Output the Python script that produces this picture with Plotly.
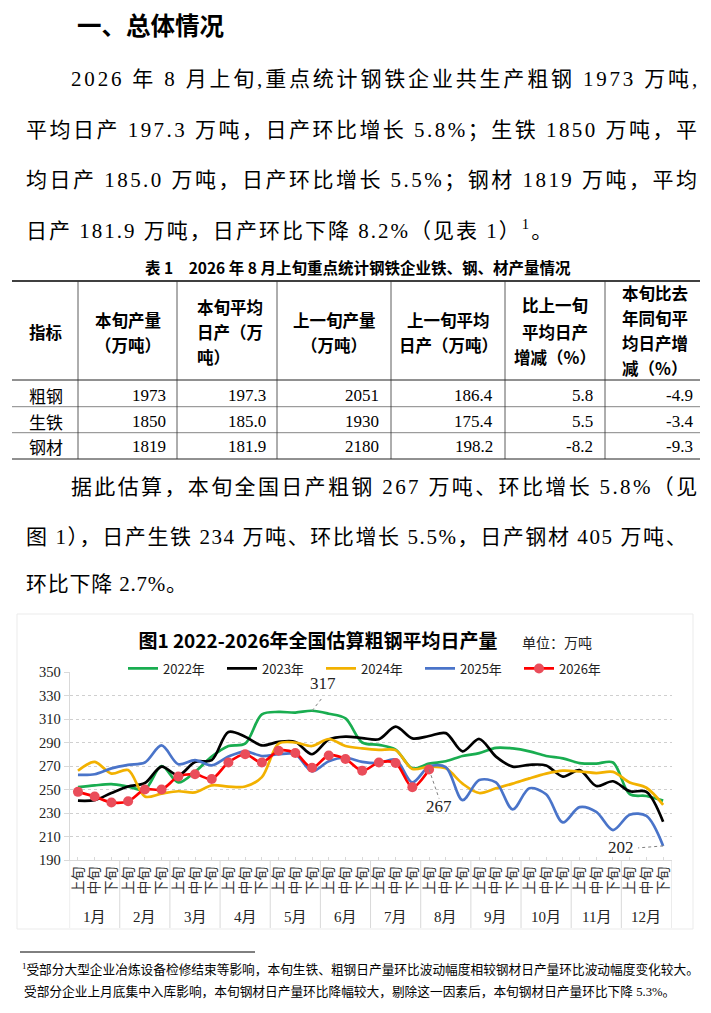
import plotly.graph_objects as go

PAGE_W, PAGE_H = 711, 1013
OFF = 8                      # default body margin of the html page
W, H = PAGE_W - OFF, PAGE_H - OFF

# ---------------- data ----------------
months = [f"{m}月" for m in range(1, 13)]
xun = ["上旬", "中旬", "下旬"]
categories = [m + x for m in months for x in xun]

y2022 = [252, 253.5, 254.5, 252.5, 250, 270, 256, 265, 278, 287, 289, 314,
         316, 315.5, 317, 314.5, 310.5, 290, 288, 284, 268, 272, 274, 278.5,
         281, 285.5, 285, 282.5, 278.5, 276.5, 272.5, 272, 273, 246, 244.5, 240.5]
y2023 = [240.5, 241, 247, 252.5, 255.5, 269.5, 262, 273.5, 275, 299, 295, 287.5,
         290.5, 290.5, 280, 292.5, 295, 293.8, 292.8, 303.5, 293.5, 295.5, 298, 282.5,
         293, 278, 269.5, 271, 270.5, 261, 266.5, 253, 257, 248.5, 248, 222.5]
y2024 = [266, 273.5, 263.5, 266.5, 244, 246.5, 248.5, 247.5, 253.5, 252.5, 252.5, 260.5,
         289, 290, 287, 293, 287, 285, 283.7, 283.5, 267.5, 269.5, 268, 255,
         247, 251, 255, 259.5, 263.5, 266, 265.3, 264, 265, 256, 251.5, 237]
y2025 = [262.5, 263, 268, 271, 273, 287.5, 271.5, 275, 270.5, 278, 282.5, 278.5,
         280, 280, 265.5, 274, 277, 273.5, 272.5, 275.5, 256, 269.5, 269, 241,
         258, 256, 233, 251, 246, 222, 235, 231, 215.5, 228.5, 227.5, 202]
y2026 = [248, 244, 239, 240, 250, 250, 261, 263, 259, 273, 280, 273,
         283, 281, 268.5, 279, 276, 266, 273, 272.5, 252, 267]

series_names = ["2022年", "2023年", "2024年", "2025年", "2026年"]
series_values = [y2022, y2023, y2024, y2025, y2026]
series_colors = ["#19ad50", "#000000", "#f2b100", "#4a74c9", "#ff0000"]

table_rows = ["粗钢", "生铁", "钢材"]
cur_output = [1973, 1850, 1819]
cur_daily = [197.3, 185.0, 181.9]
prev_output = [2051, 1930, 2180]
prev_daily = [186.4, 175.4, 198.2]
chg_prev = [5.8, 5.5, -8.2]
chg_yoy = [-4.9, -3.4, -9.3]

# ---------------- helpers ----------------
def px(x):
    return (x - OFF) / W

def py(y):
    return 1 - (y - OFF) / H

BODY = "Liberation Serif, Noto Sans CJK SC"
SANS = "Noto Sans CJK SC, Liberation Sans"

def est_width(s, size):
    w = 0.0
    n = 0
    scale = 1.0
    i = 0
    while i < len(s):
        if s.startswith("<sup>", i):
            scale = 0.7; i += 5; continue
        if s.startswith("</sup>", i):
            scale = 1.0; i += 6; continue
        ch = s[i]
        if ord(ch) > 0x2E80:
            cw = 1.0
        elif ch.isdigit():
            cw = 0.5
        elif ch in " .,":
            cw = 0.25
        elif ch == "%":
            cw = 0.833
        elif ch in "()-":
            cw = 0.333
        else:
            cw = 0.5
        w += cw * scale
        n += 1
        i += 1
    return w * size, n

annotations = []
shapes = []

def add_text(text, x, y, size, family=BODY, color="#000", xanchor="left",
             align="left", bold=False):
    t = f"<b>{text}</b>" if bold else text
    annotations.append(dict(text=t, x=px(x), y=py(y), xref="paper", yref="paper",
                            xanchor=xanchor, yanchor="middle", showarrow=False,
                            align=align, font=dict(family=family, size=size, color=color)))

def add_line(x_left, x_right, y, size, text):
    natural, n = est_width(text, size)
    ls = max(0.0, (x_right - x_left - natural) / max(1, n - 1))
    add_text(f'<span style="letter-spacing:{ls:.2f}px">{text}</span>', x_left, y, size)

def hline(x0, x1, y, width=1, color="#000"):
    shapes.append(dict(type="line", xref="paper", yref="paper", x0=px(x0), x1=px(x1),
                       y0=py(y), y1=py(y), line=dict(color=color, width=width)))

def vline(x, y0, y1, width=1, color="#000"):
    shapes.append(dict(type="line", xref="paper", yref="paper", x0=px(x), x1=px(x),
                       y0=py(y0), y1=py(y1), line=dict(color=color, width=width)))

# ---------------- document text ----------------
add_text("一、总体情况", 75, 24, 24.5, family=SANS, bold=True)

BS = 21
add_line(69, 695, 79.5, BS, "2026 年 8 月上旬,重点统计钢铁企业共生产粗钢 1973 万吨,")
add_line(24, 695, 130, BS, "平均日产 197.3 万吨，日产环比增长 5.8%；生铁 1850 万吨，平")
add_line(24, 695, 180, BS, "均日产 185.0 万吨，日产环比增长 5.5%；钢材 1819 万吨，平均")
add_line(24, 550, 229.5, BS, "日产 181.9 万吨，日产环比下降 8.2%（见表 1）<sup>1</sup>。")

add_text("表 1　2026 年 8 月上旬重点统计钢铁企业铁、钢、材产量情况", 358, 267, 15.5,
         family=SANS, xanchor="center", bold=True)

# table lines
T_TOP, T_HEAD, T_BOT = 281, 380, 459
row_lines = [406.7, 432.7]
col_lines = [78, 177, 277, 391, 505, 605]
hline(12, 700, T_TOP, 1.6, "#000")
hline(12, 700, T_HEAD, 1, "#222")
for yl in row_lines:
    hline(12, 700, yl, 0.8, "#666")
hline(12, 700, T_BOT, 1, "#222")
for xc in col_lines:
    vline(xc, T_TOP, T_BOT, 0.8, "#333")

HS = 16.5
header = [
    (46, "center", [("指标", 332)]),
    (127.5, "center", [("本旬产量", 320), ("（万吨）", 345)]),
    (195, "left", [("本旬平均", 306.7), ("日产（万", 331.7), ("吨）", 356.7)]),
    (334, "center", [("上一旬产量", 320), ("（万吨）", 345)]),
    (448, "center", [("上一旬平均", 320), ("日产（万吨）", 345)]),
    (555, "center", [("比上一旬", 305), ("平均日产", 331.7), ("增减（%）", 356.7)]),
    (620, "left", [("本旬比去", 293.3), ("年同旬平", 318.3), ("均日产增", 343.3), ("减（%）", 368.3)]),
]
for xh, anc, lines in header:
    for txt, yh in lines:
        add_text(txt, xh, yh, HS, family=SANS, xanchor=anc, bold=True)

row_y = [395, 421, 446.5]
val_right = [167.7, 267.5, 380.6, 495.4, 594.8, 695]
for r, name in enumerate(table_rows):
    add_text(name, 27, row_y[r], 17, family=SANS)
    vals = [str(cur_output[r]), f"{cur_daily[r]:.1f}", str(prev_output[r]),
            f"{prev_daily[r]:.1f}", f"{chg_prev[r]:.1f}", f"{chg_yoy[r]:.1f}"]
    for v, xr in zip(vals, val_right):
        add_text(v, xr, row_y[r], 17, family=BODY, xanchor="right")

add_line(69, 695, 487, BS, "据此估算，本旬全国日产粗钢 267 万吨、环比增长 5.8%（见")
add_line(24, 695, 537, BS, "图 1），日产生铁 234 万吨、环比增长 5.5%，日产钢材 405 万吨、")
add_line(24, 185, 584, BS, "环比下降 2.7%。")

# footnote
hline(20, 255, 952, 1, "#000")
add_text("<sup>1</sup>受部分大型企业冶炼设备检修结束等影响，本旬生铁、粗钢日产量环比波动幅度相较钢材日产量环比波动幅度变化较大。",
         20, 969, 12.7, family=BODY)
add_text("受部分企业上月底集中入库影响，本旬钢材日产量环比降幅较大，剔除这一因素后，本旬钢材日产量环比下降 5.3%。",
         22, 991.7, 12.7, family=BODY)

# ---------------- chart ----------------
shapes.append(dict(type="rect", xref="paper", yref="paper", x0=px(17), x1=px(693),
                   y0=py(929), y1=py(614), line=dict(color="#ebebeb", width=1),
                   layer="below"))
add_text("单位：万吨", 557, 642, 14, family=SANS, xanchor="center", color="#222")

fig = go.Figure()
for name, vals, color in zip(series_names, series_values, series_colors):
    is_last = name == "2026年"
    fig.add_trace(go.Scatter(
        x=categories[:len(vals)], y=vals, name=name,
        mode="lines+markers" if is_last else "lines",
        line=dict(color=color, width=2.7, shape="spline", smoothing=0.9),
        marker=dict(size=10, color="#ea4d5a", line=dict(width=0)) if is_last else None,
        hoverinfo="skip",
    ))

# month group labels and separators
for k, m in enumerate(months):
    annotations.append(dict(text=m, x=categories[3 * k + 1], y=py(916.7), xref="x",
                            yref="paper", showarrow=False, xanchor="center",
                            yanchor="middle",
                            font=dict(family=BODY, size=15, color="#222")))
for k in range(13):
    shapes.append(dict(type="line", xref="x", yref="paper", x0=3 * k - 0.5,
                       x1=3 * k - 0.5, y0=py(860), y1=py(928),
                       line=dict(color="#d9d9d9", width=1)))

# value callouts
callouts = [
    (14, y2022[14], 11, 14, 11, 27),
    (21, y2026[21], 10, -29, 10, -37),
    (35, y2025[35], -25, -2, -42, -2),
]
for idx, val, lx, ly, tx, ty in callouts:
    shapes.append(dict(type="line", xref="x", yref="y", xsizemode="pixel",
                       ysizemode="pixel", xanchor=idx, yanchor=val,
                       x0=0, x1=lx, y0=0, y1=ly,
                       line=dict(color="#808080", width=1, dash="dot")))
    annotations.append(dict(text=f"{val:g}", x=categories[idx], y=val, xref="x", yref="y",
                            xshift=tx, yshift=ty, showarrow=False,
                            font=dict(family=BODY, size=17, color="#222")))

fig.update_layout(
    template="none",
    width=W, height=H, autosize=False,
    margin=dict(l=0, r=0, t=0, b=0, pad=0),
    paper_bgcolor="white", plot_bgcolor="white",
    title=dict(text="<b>图1 2022-2026年全国估算粗钢平均日产量</b>", x=px(318), y=py(641),
               xref="paper", yref="paper", xanchor="center", yanchor="middle",
               font=dict(family=SANS, size=19, color="#000")),
    showlegend=True,
    legend=dict(orientation="h", x=px(123), y=py(668.5), xanchor="left", yanchor="middle",
                font=dict(family=SANS, size=13, color="#222"),
                entrywidth=54, entrywidthmode="pixels",
                bgcolor="rgba(0,0,0,0)", borderwidth=0, itemclick=False),
    xaxis=dict(type="category", categoryorder="array", categoryarray=categories,
               range=[-0.5, 35.5], domain=[px(69.6), px(671.5)],
               tickmode="array", tickvals=categories, ticktext=xun * 12,
               tickangle=-90, tickfont=dict(family=SANS, size=14, color="#333"),
               showline=True, linecolor="#d9d9d9", linewidth=1,
               ticks="inside", ticklen=3, tickcolor="#d9d9d9",
               showgrid=False, zeroline=False, automargin=False, fixedrange=True),
    yaxis=dict(range=[190, 350], domain=[py(860), py(672)], tick0=190, dtick=20,
               showgrid=True, gridcolor="#cfcfcf", griddash="dot", gridwidth=1,
               showline=True, linecolor="#d9d9d9", linewidth=1,
               ticks="outside", ticklen=5, tickcolor="#d9d9d9",
               tickfont=dict(family="Liberation Serif", size=14.5, color="#222"),
               zeroline=False, automargin=False, fixedrange=True),
    annotations=annotations,
    shapes=shapes,
)

fig.write_html("out.html")
